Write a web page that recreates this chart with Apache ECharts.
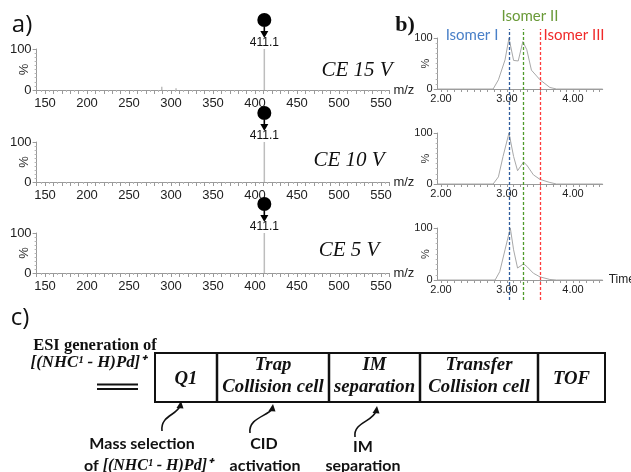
<!DOCTYPE html>
<html>
<head>
<meta charset="utf-8">
<script src="https://cdn.jsdelivr.net/npm/echarts@6/dist/echarts.min.js"></script>
<style>
  html, body { margin: 0; padding: 0; background: #fff; }
  #main { width: 631px; height: 472px; }
</style>
</head>
<body>
<div id="main"></div>
<script>
// a) MS/MS spectra of the precursor at three collision energies
const ceLabels = ['CE 15 V', 'CE 10 V', 'CE 5 V'];
const specMz = [[289, 306, 411.1], [411.1], [411.1]];
const specInt = [[8, 4, 100], [100], [100]];
const specLabels = [150, 200, 250, 300, 350, 400, 450, 500, 550];
const precursor = 411.1;

// b) arrival time distributions
const chrom1Time = [1.95, 2.79, 2.87, 2.97, 3.03, 3.10, 3.17, 3.24, 3.30, 3.37, 3.50, 3.65, 3.75, 4.45];
const chrom1Int = [0, 0, 18, 57, 100, 56, 55, 93, 77, 37, 18, 3, 0, 0];
const chrom2Time = [1.95, 2.79, 2.87, 2.94, 3.03, 3.10, 3.16, 3.25, 3.30, 3.40, 3.50, 3.65, 3.75, 4.45];
const chrom2Int = [0, 0, 14, 54, 100, 54, 26, 43, 37, 18, 9, 3, 0, 0];
const chrom3Time = [1.95, 2.82, 2.89, 2.97, 3.05, 3.10, 3.16, 3.25, 3.30, 3.40, 3.50, 3.65, 3.75, 4.45];
const chrom3Int = [0, 0, 16, 58, 100, 58, 23, 31, 26, 13, 6, 1, 0, 0];
const chromLabels = [2.0, 3.0, 4.0];
const chromTicks = [2.0, 2.1, 2.2, 2.3, 2.4, 2.5, 2.6, 2.7, 2.8, 2.9, 3.0, 3.1, 3.2, 3.3, 3.4, 3.5, 3.6, 3.7, 3.8, 3.9, 4.0, 4.1, 4.2, 4.3, 4.4];
const isomerNames = ['Isomer I', 'Isomer II', 'Isomer III'];
const isomerTimes = [3.03, 3.25, 3.50];

// c) instrument scheme
const stageLabels = ['Q1', 'Trap\nCollision cell', 'IM\nseparation', 'Transfer\nCollision cell', 'TOF'];

const chromTime = [chrom1Time, chrom2Time, chrom3Time];
const chromInt = [chrom1Int, chrom2Int, chrom3Int];

const axisGrey = '#9a9a9a';
const sans = '"Liberation Sans", Arial, sans-serif';
const serif = '"Liberation Serif", "Times New Roman", serif';
const calib = 'Lato, "Open Sans", sans-serif';
const isoText = ['#4a80c8', '#6a9a38', '#f02a2a'];
const isoLine = ['#2f5c9c', '#4f9a2a', '#ff3a3a'];
const pin = 'path://M0 7A7 7 0 1 1 14 7A7 7 0 1 1 0 7ZM6.2 13L7.8 13L7.8 18L11 18L7 25L3 18L6.2 18Z';

const specTops = [49, 142, 233];
const specHeights = [41, 40, 40];
const chromTops = [38, 133, 228];
const chromHeights = [51, 51, 52];

const grid = [];
const xAxis = [];
const yAxis = [];
const series = [];

function yAx(idx, fs) {
  return {
    gridIndex: idx, type: 'value', min: 0, max: 100, interval: 100,
    axisLine: { show: true, lineStyle: { color: axisGrey } },
    axisTick: { show: true, length: 4, lineStyle: { color: axisGrey } },
    minorTick: { show: true, splitNumber: 10, length: 2, lineStyle: { color: '#b5b5b5' } },
    splitLine: { show: false },
    axisLabel: { fontSize: fs, color: '#222', margin: 5, fontFamily: sans },
    name: '%', nameLocation: 'middle', nameRotate: 90, nameGap: 6, nameMoveOverlap: false,
    nameTextStyle: { fontSize: fs, color: '#333', fontFamily: sans }
  };
}

// spectra
for (let i = 0; i < 3; i++) {
  grid.push({ left: 36.6, right: 241.6, top: specTops[i], height: specHeights[i], outerBoundsMode: 'none', containLabel: false });
  xAxis.push({
    gridIndex: i, type: 'value', min: 140, max: 560, interval: 10,
    axisLine: { lineStyle: { color: axisGrey } },
    axisTick: { length: 4, lineStyle: { color: axisGrey } },
    minorTick: { show: true, splitNumber: 2, length: 2, lineStyle: { color: '#b5b5b5' } },
    splitLine: { show: false },
    axisLabel: {
      interval: 0, margin: 7, fontSize: 13, color: '#222', fontFamily: sans,
      formatter: v => specLabels.includes(v) ? String(v) : ''
    },
    name: 'm/z', nameLocation: 'end', nameGap: 4, nameMoveOverlap: false,
    nameTextStyle: { fontSize: 13, color: '#222', fontFamily: sans }
  });
  yAxis.push(yAx(i, 13));
  series.push({
    type: 'bar', xAxisIndex: i, yAxisIndex: i, barWidth: 1.5,
    itemStyle: { color: '#bdbdbd' },
    data: specMz[i].map((m, j) => m === precursor
      ? { value: [m, specInt[i][j]], label: { show: true, position: 'top', distance: 0, formatter: String(precursor), fontSize: 12, color: '#111', fontFamily: sans } }
      : [m, specInt[i][j]]),
    markPoint: {
      silent: true,
      data: [{ coord: [precursor, 100], symbol: pin, symbolSize: [14, 25], symbolOffset: [0, -23.5] }],
      itemStyle: { color: '#000' },
      label: { show: false }
    }
  });
}

// arrival time distributions
for (let i = 0; i < 3; i++) {
  const gi = 3 + i;
  grid.push({ left: 437.7, right: 28.3, top: chromTops[i], height: chromHeights[i], outerBoundsMode: 'none', containLabel: false });
  xAxis.push({
    gridIndex: gi, type: 'value', min: 1.95, max: 4.45,
    axisLine: { lineStyle: { color: axisGrey } },
    axisTick: { customValues: chromTicks, length: 3, lineStyle: { color: axisGrey } },
    splitLine: { show: false },
    axisLabel: {
      customValues: chromLabels, margin: 4, fontSize: 11, color: '#222', fontFamily: sans,
      formatter: v => v.toFixed(2)
    },
    name: i === 2 ? 'Time' : '', nameLocation: 'end', nameGap: 6, nameMoveOverlap: false,
    nameTextStyle: { fontSize: 12, color: '#222', fontFamily: sans }
  });
  yAxis.push(yAx(gi, 11));
  series.push({
    type: 'line', xAxisIndex: gi, yAxisIndex: gi, showSymbol: false,
    lineStyle: { color: '#a8a8a8', width: 1 },
    data: chromTime[i].map((t, j) => [t, chromInt[i][j]])
  });
}

// dashed isomer markers spanning all three distributions
grid.push({ left: 437.7, right: 28.3, top: 29, height: 271, outerBoundsMode: 'none', containLabel: false });
xAxis.push({ gridIndex: 6, type: 'value', min: 1.95, max: 4.45, show: false });
yAxis.push({ gridIndex: 6, type: 'value', min: 0, max: 1, show: false });
series.push({
  type: 'line', xAxisIndex: 6, yAxisIndex: 6, showSymbol: false,
  lineStyle: { opacity: 0 }, data: [[1.95, 0]],
  markLine: {
    silent: true, symbol: 'none', label: { show: false },
    data: isomerTimes.map((t, k) => ({ xAxis: t, lineStyle: { color: isoLine[k], type: [3, 2], width: 1.3 } }))
  }
});

function txt(text, x, y, font, fill, sx) {
  return {
    type: 'text', silent: true, z: 10, x, y, scaleX: sx || 1,
    style: { text, x: 0, y: 0, font, fill: fill || '#111', align: 'center', verticalAlign: 'middle', textAlign: 'center', textVerticalAlign: 'middle' }
  };
}

const graphic = [];
graphic.push(txt('a)', 22, 25, '24px "Open Sans", sans-serif', '#111'));
graphic.push(txt('b)', 405, 25, 'bold 22px ' + serif, '#111'));
graphic.push(txt('c)', 20, 318, '24px "Open Sans", sans-serif', '#111'));
const cePos = [[357, 70], [349, 160], [349, 250]];
ceLabels.forEach((t, i) => graphic.push(txt(t, cePos[i][0], cePos[i][1], 'italic 21px ' + serif, '#111')));
const isoPos = [[472, 35], [530, 16], [574, 35]];
isomerNames.forEach((t, k) => graphic.push(txt(t, isoPos[k][0], isoPos[k][1], '15px ' + calib, isoText[k])));

// scheme boxes
const edges = [155, 217, 329, 420, 538, 605];
const boxTop = 353, boxBottom = 402;
graphic.push({ type: 'rect', silent: true, shape: { x: edges[0], y: boxTop, width: edges[5] - edges[0], height: boxBottom - boxTop }, style: { fill: 'none', stroke: '#111', lineWidth: 2 } });
for (let k = 1; k < edges.length - 1; k++) {
  graphic.push({ type: 'line', silent: true, shape: { x1: edges[k], y1: boxTop, x2: edges[k], y2: boxBottom }, style: { stroke: '#111', lineWidth: 2.5 } });
}
stageLabels.forEach((t, k) => {
  const cx = (edges[k] + edges[k + 1]) / 2;
  const lines = t.split('\n');
  const f = 'italic bold 18px ' + serif;
  if (lines.length === 1) {
    graphic.push(txt(lines[0], cx, 379, f, '#111', 1.04));
  } else {
    graphic.push(txt(lines[0], cx, 365, f, '#111', 1.04));
    graphic.push(txt(lines[1], cx, 387, f, '#111', 1.04));
  }
});

graphic.push(txt('ESI generation of', 95, 346, 'bold 16px ' + serif, '#111', 1.03));
graphic.push(txt('[(NHC\u00b9 - H)Pd]\u207a', 88, 363, 'italic bold 16px ' + serif, '#111', 1.05));
graphic.push({ type: 'line', silent: true, shape: { x1: 97, y1: 384.5, x2: 138, y2: 384.5 }, style: { stroke: '#111', lineWidth: 2 } });
graphic.push({ type: 'line', silent: true, shape: { x1: 97, y1: 389, x2: 138, y2: 389 }, style: { stroke: '#111', lineWidth: 2 } });

// curly arrows
const arrows = [
  [162, 431, 160, 416, 177, 415, 180, 406],
  [250, 433, 248, 418, 268, 416, 272, 409],
  [355, 437, 353, 422, 373, 422, 376, 411]
];
arrows.forEach(a => {
  graphic.push({ type: 'bezierCurve', silent: true, shape: { x1: a[0], y1: a[1], cpx1: a[2], cpy1: a[3], cpx2: a[4], cpy2: a[5], x2: a[6], y2: a[7] }, style: { stroke: '#111', lineWidth: 1.6, fill: 'none' } });
  graphic.push({ type: 'polygon', silent: true, shape: { points: [[a[6] + 1, a[7] - 5], [a[6] - 3.5, a[7] + 2], [a[6] + 3.5, a[7] + 2.5]] }, style: { fill: '#111' } });
});

graphic.push(txt('Mass selection', 142, 444, 'bold 16px ' + calib));
graphic.push({
  type: 'text', silent: true,
  style: {
    text: '{s|of }{i|[(NHC\u00b9 - H)Pd]\u207a}', x: 148, y: 466,
    align: 'center', verticalAlign: 'middle', textAlign: 'center', textVerticalAlign: 'middle',
    rich: {
      s: { font: 'bold 16px ' + calib, fill: '#111' },
      i: { font: 'italic bold 16px ' + serif, fill: '#111' }
    }
  }
});
graphic.push(txt('CID', 264, 444, 'bold 16px ' + calib));
graphic.push(txt('activation', 265, 466, 'bold 16px ' + calib));
graphic.push(txt('IM', 363, 447, 'bold 16px ' + calib));
graphic.push(txt('separation', 363, 466, 'bold 16px ' + calib));

const chart = echarts.init(document.getElementById('main'));
chart.setOption({
  animation: false,
  backgroundColor: '#fff',
  grid, xAxis, yAxis, series, graphic
});
</script>
</body>
</html>
